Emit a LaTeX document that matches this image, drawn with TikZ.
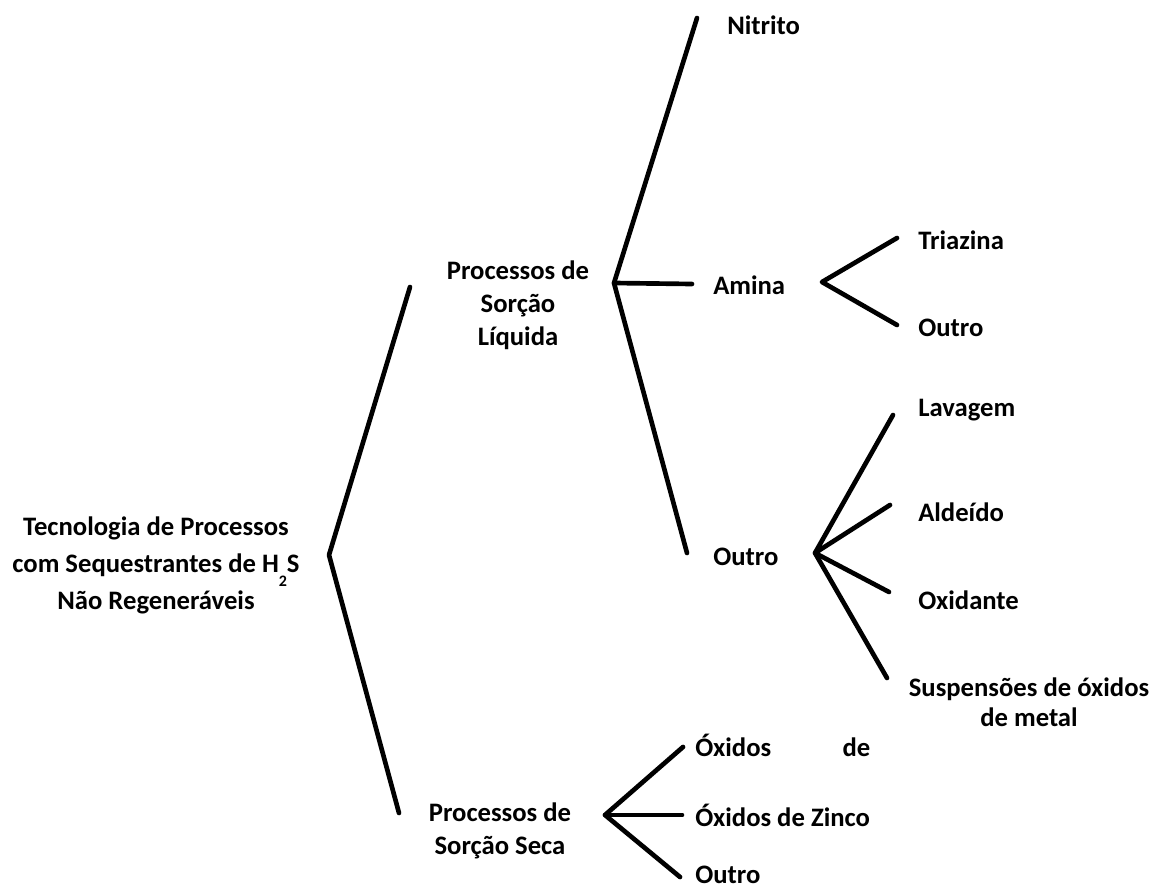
\documentclass[tikz,border=0pt]{standalone}
\usepackage{fontspec}
\setmainfont{Carlito}
\tikzset{
    tree-label/.style = {font=\fontsize{20}{24.75}\selectfont\bfseries, inner sep=0pt, align=center},
    tree-branch/.style = {draw=black, line width=3.5pt, line cap=round, line join=round},
}

\begin{document}
\begin{tikzpicture}[x=0.75pt, y=-0.75pt]
\useasboundingbox (0,0) rectangle (1154,892);
\node [tree-label, font=\fontsize{20}{27.75}\selectfont\bfseries] (root) at (156,565) {Tecnologia de Processos\\com Sequestrantes de H\raisebox{-0.55em}{\fontsize{12}{12}\selectfont 2}S\\N\~ao Regener\'aveis};
\node [tree-label] (liquida) at (518,305) {Processos de\\Sor\c{c}\~ao\\L\'iquida};
\node [tree-label] (seca) at (500,831) {Processos de\\Sor\c{c}\~ao Seca};
\node [tree-label, anchor=west] (nitrito) at (727,25) {Nitrito};
\node [tree-label, anchor=west] (amina) at (713,285) {Amina};
\node [tree-label, anchor=west] (outro-liq) at (713,557) {Outro};
\node [tree-label, anchor=west] (triazina) at (918,240) {Triazina};
\node [tree-label, anchor=west] (outro-amina) at (918,328) {Outro};
\node [tree-label, anchor=west] (lavagem) at (918,410) {Lavagem};
\node [tree-label, anchor=west] (aldeido) at (918,512) {Alde\'ido};
\node [tree-label, anchor=west] (oxidante) at (918,600) {Oxidante};
\node [tree-label, font=\fontsize{20}{22.5}\selectfont\bfseries] (suspensoes) at (1029,702) {Suspens\~oes de \'oxidos\\de metal};
\node [tree-label, anchor=west] (oxidos) at (695,745) {\makebox[131.25pt][s]{\'Oxidos\hfill de}};
\node [tree-label, anchor=west] (zinco) at (695,815) {\'Oxidos de Zinco};
\node [tree-label, anchor=west] (outro-seca) at (695,875) {Outro};

\coordinate (root-fork) at (329,555);
\coordinate (root-up) at (410,287);
\coordinate (root-down) at (399,813);
\coordinate (liquida-fork) at (614,283);
\coordinate (liquida-up) at (697,18);
\coordinate (liquida-mid) at (692,284);
\coordinate (liquida-down) at (687,553);
\coordinate (amina-fork) at (822,282);
\coordinate (amina-up) at (897,238);
\coordinate (amina-down) at (897,325);
\coordinate (outro-fork) at (815,553);
\coordinate (outro-a) at (893,415);
\coordinate (outro-b) at (890,505);
\coordinate (outro-c) at (889,592);
\coordinate (outro-d) at (887,678);
\coordinate (seca-fork) at (605,815);
\coordinate (seca-up) at (683,747);
\coordinate (seca-mid) at (682,815);
\coordinate (seca-down) at (680,877);

\draw [tree-branch] (root-up) -- (root-fork) -- (root-down);
\draw [tree-branch] (liquida-up) -- (liquida-fork) -- (liquida-down);
\draw [tree-branch] (liquida-fork) -- (liquida-mid);
\draw [tree-branch] (amina-up) -- (amina-fork) -- (amina-down);
\draw [tree-branch] (outro-a) -- (outro-fork) -- (outro-d);
\draw [tree-branch] (outro-b) -- (outro-fork) -- (outro-c);
\draw [tree-branch] (seca-up) -- (seca-fork) -- (seca-down);
\draw [tree-branch] (seca-fork) -- (seca-mid);
\end{tikzpicture}
\end{document}
